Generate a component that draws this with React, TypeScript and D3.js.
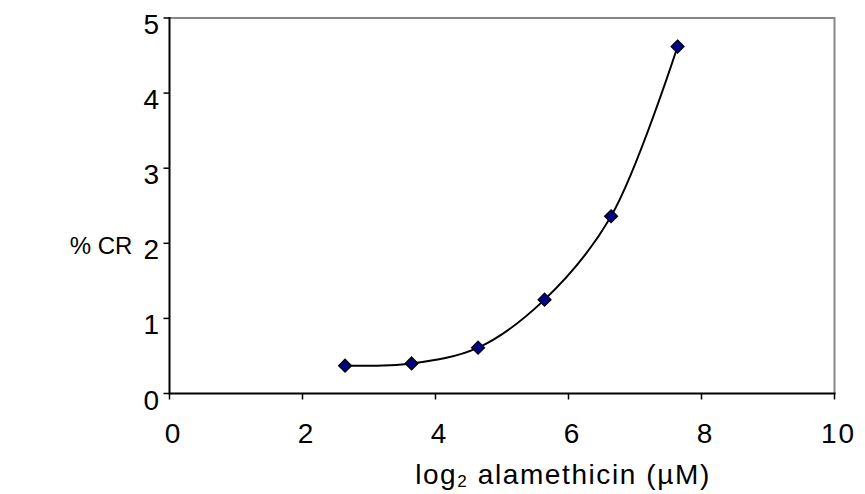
import React from "react";
import * as d3 from "d3";

// log2 of alamethicin concentration (µM) and the measured % CR
const concentrations = [2.64, 3.64, 4.64, 5.64, 6.64, 7.64];
const percentCR = [0.37, 0.4, 0.61, 1.25, 2.36, 4.62];
const xTicks = [0, 2, 4, 6, 8, 10];
const yTicks = [0, 1, 2, 3, 4, 5];

const W = 865;
const H = 494;
const plot = { left: 169.5, right: 834.5, top: 18, bottom: 393.5 };
const font = "'Liberation Sans', Arial, sans-serif";

export default function App() {
  const x = d3.scaleLinear().domain([0, 10]).range([plot.left, plot.right]);
  const y = d3.scaleLinear().domain([0, 5]).range([plot.bottom, plot.top]);

  const pts = concentrations.map((c, i) => [c, percentCR[i]] as [number, number]);
  const line = d3
    .line<[number, number]>()
    .x((d) => x(d[0]))
    .y((d) => y(d[1]))
    .curve(d3.curveCatmullRom.alpha(0.5));

  const diamond = (cx: number, cy: number, r: number) =>
    `M${cx},${cy - r}L${cx + r},${cy}L${cx},${cy + r}L${cx - r},${cy}Z`;

  return (
    <svg
      width={W}
      height={H}
      style={{ position: "absolute", left: 0, top: 0, background: "#fff" }}
      fontFamily={font}
    >
      {/* frame: grey top and right edges */}
      <path
        d={`M${plot.left},${plot.top}H${plot.right}V${plot.bottom}`}
        fill="none"
        stroke="#888"
        strokeWidth={2}
      />
      {/* axes */}
      <line x1={plot.left} x2={plot.right + 1} y1={plot.bottom} y2={plot.bottom} stroke="#000" strokeWidth={2} />
      <line x1={plot.left} x2={plot.left} y1={plot.top - 1} y2={plot.bottom + 1} stroke="#000" strokeWidth={2} />

      {xTicks.map((t) => (
        <g key={`x${t}`}>
          <line x1={x(t)} x2={x(t)} y1={plot.bottom} y2={plot.bottom + 6} stroke="#000" strokeWidth={1.5} />
          <text x={x(t) + 4} y={443} fontSize={28} textAnchor="middle" letterSpacing={2}>
            {t}
          </text>
        </g>
      ))}
      {yTicks.map((t) => (
        <g key={`y${t}`}>
          <line x1={plot.left - 6} x2={plot.left} y1={y(t)} y2={y(t)} stroke="#000" strokeWidth={1.5} />
          <text x={159} y={y(t) + 16} fontSize={28} textAnchor="end">
            {t}
          </text>
        </g>
      ))}

      <path d={line(pts) ?? ""} fill="none" stroke="#000" strokeWidth={2} />
      {pts.map((p, i) => (
        <path key={i} d={diamond(x(p[0]), y(p[1]), 6.5)} fill="#000080" stroke="#000" strokeWidth={1.2} />
      ))}

      <text x={101} y={254} fontSize={24} textAnchor="middle">
        % CR
      </text>
      <text x={563} y={484} fontSize={28} textAnchor="middle" letterSpacing={1.6}>
        log<tspan fontSize={17} dy={3}>2</tspan>
        <tspan dy={-3}> alamethicin (µM)</tspan>
      </text>
    </svg>
  );
}
